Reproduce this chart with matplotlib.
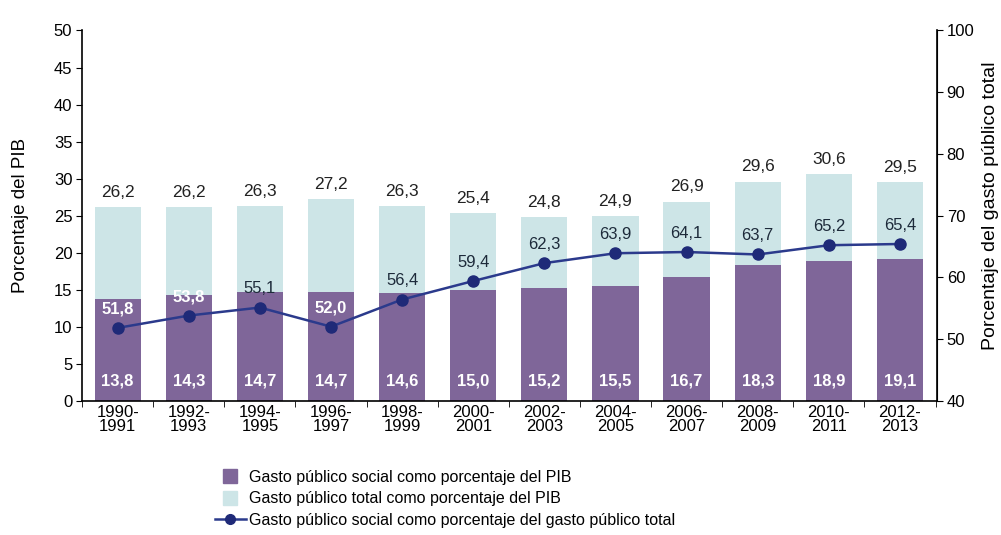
import matplotlib
matplotlib.use("Agg")
import matplotlib.pyplot as plt
from matplotlib.lines import Line2D
import numpy as np

periods = ["1990-\n1991", "1992-\n1993", "1994-\n1995", "1996-\n1997", "1998-\n1999",
           "2000-\n2001", "2002-\n2003", "2004-\n2005", "2006-\n2007", "2008-\n2009",
           "2010-\n2011", "2012-\n2013"]
social_pib = [13.8, 14.3, 14.7, 14.7, 14.6, 15.0, 15.2, 15.5, 16.7, 18.3, 18.9, 19.1]
total_pib = [26.2, 26.2, 26.3, 27.2, 26.3, 25.4, 24.8, 24.9, 26.9, 29.6, 30.6, 29.5]
social_share = [51.8, 53.8, 55.1, 52.0, 56.4, 59.4, 62.3, 63.9, 64.1, 63.7, 65.2, 65.4]

PURPLE = "#7f6699"
CYAN = "#cde5e7"
NAVY = "#2b3a8c"
DOT = "#1f2a78"

plt.rcParams["font.family"] = ["Liberation Sans", "DejaVu Sans"]


def fmt(v):
    return f"{v:.1f}".replace(".", ",")


fig = plt.figure(figsize=(10.01, 5.35), dpi=100)
ax = fig.add_axes([0.082, 0.251, 0.854, 0.692])
x = np.arange(len(periods))
w = 0.65

ax.bar(x, total_pib, w, color=CYAN, zorder=1)
ax.bar(x, social_pib, w, color=PURPLE, zorder=2)

for xi, t, s in zip(x, total_pib, social_pib):
    ax.annotate(fmt(t), (xi, t), xytext=(0, 10.5), textcoords="offset points",
                ha="center", va="center", fontsize=12.5, color="#222222")
    ax.text(xi, 2.6, fmt(s), ha="center", va="center",
            fontsize=12, color="white", fontweight="bold", zorder=4)

ax.set_xlim(-0.485, len(periods) - 0.48)
ax.set_ylim(0, 50)
ax.set_yticks(range(0, 51, 5))
ax.set_xticks(x)
ax.set_xticklabels(periods, fontsize=12, linespacing=0.95)
ax.set_xticks(np.arange(-0.5, len(periods), 1.0), minor=True)
ax.tick_params(axis="x", which="major", length=0, pad=3)
ax.tick_params(axis="x", which="minor", length=4, direction="out")
ax.tick_params(axis="y", labelsize=12, length=4, direction="out", pad=3)
ax.set_ylabel("Porcentaje del PIB", fontsize=13.5, labelpad=18)
ax.spines["top"].set_visible(False)
ax.spines["left"].set_linewidth(1.2)
ax.spines["bottom"].set_linewidth(1.2)

ax2 = ax.twinx()
ax2.set_ylim(40, 100)
ax2.set_yticks(range(40, 101, 10))
ax2.plot(x, social_share, color=NAVY, linewidth=1.8, marker="o", markersize=8,
         markerfacecolor=DOT, markeredgecolor=DOT, zorder=5)
for xi, v, s in zip(x, social_share, social_pib):
    y_pib = (v - 40) / 60 * 50
    inside = y_pib + 2.4 < s
    ax2.annotate(fmt(v), (xi, v), xytext=(0, 13.5), textcoords="offset points",
                 ha="center", va="center", fontsize=12,
                 color="white" if inside else "#1d2a3a",
                 fontweight="bold" if inside else "normal")
ax2.tick_params(axis="y", labelsize=12, length=4, direction="out", pad=3)
ax2.spines["top"].set_visible(False)
ax2.spines["left"].set_visible(False)
ax2.spines["right"].set_linewidth(1.2)
ax2.spines["bottom"].set_visible(False)

fig.text(0.998, 0.615, "Porcentaje del gasto público total", rotation=90,
         ha="right", va="center", fontsize=14)

handles = [
    Line2D([0], [0], linestyle="none", marker="s", markersize=10,
           color=PURPLE, label="Gasto público social como porcentaje del PIB"),
    Line2D([0], [0], linestyle="none", marker="s", markersize=10,
           color=CYAN, label="Gasto público total como porcentaje del PIB"),
    Line2D([0], [0], color=NAVY, linewidth=1.8, marker="o", markersize=7,
           markerfacecolor=DOT, markeredgecolor=DOT,
           label="Gasto público social como porcentaje del gasto público total"),
]
fig.legend(handles=handles, loc="upper left", bbox_to_anchor=(0.207, 0.137),
           frameon=False, fontsize=11.5, handlelength=1.9, handleheight=0.8,
           labelspacing=0.42, borderpad=0, handletextpad=0.2)

fig.savefig("out.png", dpi=100)
